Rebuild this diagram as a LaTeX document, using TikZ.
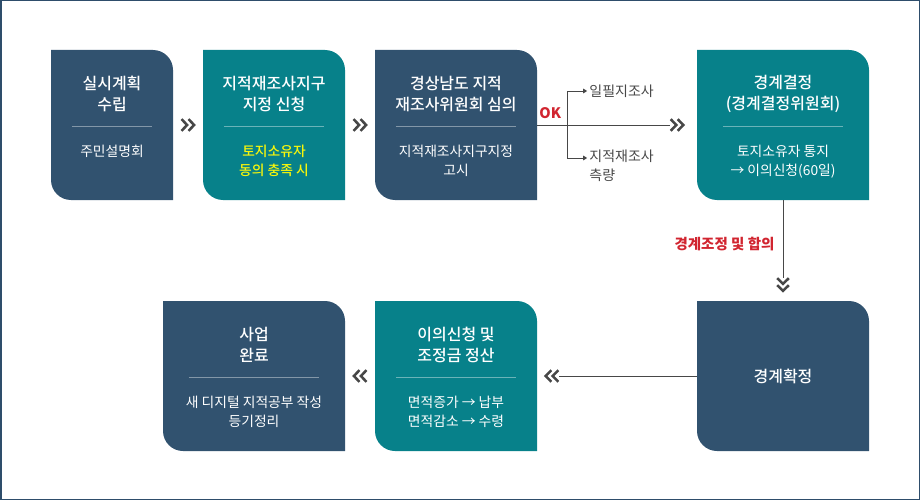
\documentclass[tikz,border=0pt]{standalone}
\usepackage{fontspec}
\setmainfont{Noto Sans CJK KR}
\newfontfamily\krmed{Noto Sans CJK KR Medium}
\usetikzlibrary{positioning,arrows.meta,calc}

\definecolor{stageblue}{HTML}{31526F}
\definecolor{stageteal}{HTML}{07818A}
\definecolor{okred}{HTML}{D12530}
\definecolor{linegray}{HTML}{474747}
\definecolor{noteyellow}{HTML}{F5F50C}
\definecolor{framecol}{HTML}{2E4D6B}

\begin{document}
\begin{tikzpicture}[x=1pt, y=1pt,
  stage/.style={rectangle, inner sep=0pt, minimum height=150pt, path picture={
    \fill[#1] (path picture bounding box.north west)
      -- ([xshift=-20pt]path picture bounding box.north east)
      arc[start angle=90, end angle=0, radius=20pt]
      -- (path picture bounding box.south east)
      -- ([xshift=20pt]path picture bounding box.south west)
      arc[start angle=270, end angle=180, radius=20pt] -- cycle;}},
  ttl/.style={text=white, align=center, font=\fontsize{16}{20.5}\selectfont\krmed, inner sep=0pt},
  sub/.style={text=white, align=center, font=\fontsize{13.8}{19}\selectfont, inner sep=0pt, anchor=north},
  sepline/.style={white, opacity=0.4, line width=0.8pt},
  flow/.style={linegray, line width=0.9pt},
  side/.style={text=linegray, align=left, font=\fontsize{14}{19}\selectfont, inner sep=2pt},
  note/.style={text=okred, font=\fontsize{14.5}{16}\selectfont\bfseries, inner sep=1pt},
  chev/.pic={\draw[linegray, line width=2.5pt, miter limit=10]
    (-6.5,5.8) -- (-0.8,0) -- (-6.5,-5.8) (0.5,5.8) -- (6.2,0) -- (0.5,-5.8);}
]
\useasboundingbox (0,0) rectangle (920,-500);
\draw[framecol, line width=1.5pt] (0.75,-0.75) rectangle (919.25,-499.25);

% top row
\node[stage=stageblue, minimum width=122pt] (plan) at (112,-125) {};
\node[stage=stageteal, minimum width=142pt] (apply) at (274,-125) {};
\node[stage=stageblue, minimum width=162pt] (review) at (456,-125) {};
\node[stage=stageteal, minimum width=172pt] (decide) at (783,-125) {};

% bottom row
\node[stage=stageblue, minimum width=172pt] (confirm) at (783,-376) {};
\node[stage=stageteal, minimum width=162pt] (settle) at (456,-376) {};
\node[stage=stageblue, minimum width=182pt] (finish) at (254,-376) {};

% titles
\node[ttl] (planT) at ([yshift=-44pt]plan.north) {실시계획\\수립};
\node[ttl] (applyT) at ([yshift=-44pt]apply.north) {지적재조사지구\\지정 신청};
\node[ttl] (reviewT) at ([yshift=-44pt]review.north) {경상남도 지적\\재조사위원회 심의};
\node[ttl] (decideT) at ([yshift=-44pt]decide.north) {경계결정\\(경계결정위원회)};
\node[ttl] (confirmT) at (confirm.center) {경계확정};
\node[ttl] (settleT) at ([yshift=-44pt]settle.north) {이의신청 및\\조정금 정산};
\node[ttl] (finishT) at ([yshift=-44pt]finish.north) {사업\\완료};

% separators
\draw[sepline] ([xshift=21pt,yshift=-77pt]plan.north west) -- ([xshift=-21pt,yshift=-77pt]plan.north east);
\draw[sepline] ([xshift=21pt,yshift=-77pt]apply.north west) -- ([xshift=-21pt,yshift=-77pt]apply.north east);
\draw[sepline] ([xshift=21pt,yshift=-77pt]review.north west) -- ([xshift=-21pt,yshift=-77pt]review.north east);
\draw[sepline] ([xshift=26pt,yshift=-77pt]decide.north west) -- ([xshift=-26pt,yshift=-77pt]decide.north east);
\draw[sepline] ([xshift=21pt,yshift=-77pt]settle.north west) -- ([xshift=-21pt,yshift=-77pt]settle.north east);
\draw[sepline] ([xshift=26pt,yshift=-77pt]finish.north west) -- ([xshift=-26pt,yshift=-77pt]finish.north east);

% details
\node[sub] (planS) at ([yshift=-95pt]plan.north) {주민설명회};
\node[sub, text=noteyellow, font=\fontsize{13.8}{19}\selectfont\krmed] (applyS) at ([yshift=-95pt]apply.north) {토지소유자\\동의 충족 시};
\node[sub] (reviewS) at ([yshift=-95pt]review.north) {지적재조사지구지정\\고시};
\node[sub] (decideS) at ([yshift=-95pt]decide.north) {토지소유자 통지\\→ 이의신청(60일)};
\node[sub] (settleS) at ([yshift=-95pt]settle.north) {면적증가 → 납부\\면적감소 → 수령};
\node[sub] (finishS) at ([yshift=-95pt]finish.north) {새 디지털 지적공부 작성\\등기정리};

% plain chevrons between boxes
\pic at ($(plan.east)!0.5!(apply.west)$) {chev};
\pic at ($(apply.east)!0.5!(review.west)$) {chev};
\pic[rotate=180] at ($(finish.east)!0.5!(settle.west)$) {chev};

% OK -> boundary decision, with the two survey branches
\coordinate (toDecide) at ([xshift=140pt]review.east);
\coordinate (fork) at ([xshift=30pt]review.east);
\draw[flow] (review.east) -- ([xshift=-7pt]toDecide);
\pic at (toDecide) {chev};
\node[note] (ok) at ([xshift=13pt,yshift=12pt]review.east) {OK};
\node[side, anchor=west] (parcel) at ([xshift=50pt,yshift=34pt]review.east) {일필지조사};
\node[side, anchor=north west] (resurvey) at ([xshift=50pt,yshift=-23pt]review.east) {지적재조사\\측량};
\draw[flow, -{Triangle[length=4pt, width=4.5pt]}] (fork) |- (parcel.west);
\draw[flow, -{Triangle[length=4pt, width=4.5pt]}] (fork) |- ([yshift=-10pt]resurvey.north west);

% down to boundary confirmation
\coordinate (toConfirm) at ([yshift=-84.5pt]decide.south);
\draw[flow] (decide.south) -- node[note, left=7pt, pos=0.56] (adjust) {경계조정 및 합의} ([yshift=7pt]toConfirm);
\pic[rotate=-90] at (toConfirm) {chev};

% back along the bottom row
\coordinate (toSettle) at ([xshift=-145pt]confirm.west);
\draw[flow] (confirm.west) -- ([xshift=7pt]toSettle);
\pic[rotate=180] at (toSettle) {chev};

\end{tikzpicture}
\end{document}
